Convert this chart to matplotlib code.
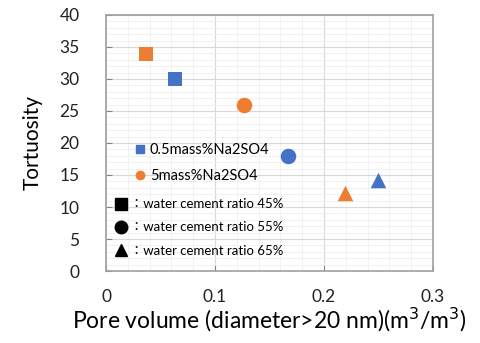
import matplotlib
matplotlib.use("Agg")
import matplotlib.pyplot as plt
from matplotlib.lines import Line2D
from matplotlib.ticker import MultipleLocator

plt.rcParams['font.family'] = ['Lato', 'Noto Sans CJK JP', 'DejaVu Sans']

# data
series_names = ['0.5mass%Na2SO4', '5mass%Na2SO4']
series_colors = ['#4472C4', '#ED7D31']
ratio_labels = ['45%', '55%', '65%']
ratio_markers = ['s', 'o', '^']
pore_05 = [0.063, 0.167, 0.250]
tort_05 = [30.0, 18.0, 14.2]
pore_5 = [0.037, 0.127, 0.219]
tort_5 = [33.9, 25.9, 12.2]
pore = [pore_05, pore_5]
tort = [tort_05, tort_5]
marker_sizes = [105, 125, 125]

fig = plt.figure(figsize=(4.81, 3.43), dpi=100)
ax = fig.add_axes([0.2204, 0.2099, 0.6798, 0.7464])

for xs, ys, c in zip(pore, tort, series_colors):
    for x, y, m, s in zip(xs, ys, ratio_markers, marker_sizes):
        ax.scatter(x, y, marker=m, s=s, color=c, zorder=3, linewidths=0)

ax.set_xlim(0, 0.3)
ax.set_ylim(0, 40)
ax.xaxis.set_major_locator(MultipleLocator(0.1))
ax.xaxis.set_minor_locator(MultipleLocator(0.02))
ax.yaxis.set_major_locator(MultipleLocator(5))
ax.yaxis.set_minor_locator(MultipleLocator(1))
ax.set_xticks([0, 0.1, 0.2, 0.3])
ax.set_xticklabels(['0', '0.1', '0.2', '0.3'])
ax.grid(which='major', color='#d9d9d9', lw=0.8)
ax.grid(which='minor', color='#efefef', lw=0.6)
ax.set_axisbelow(True)
ax.tick_params(which='major', direction='in', length=4, color='#808080', labelsize=12.5, labelcolor='#222222')
ax.tick_params(axis='y', pad=19)
ax.tick_params(axis='x', pad=13)
ax.tick_params(which='minor', length=0)
for sp in ax.spines.values():
    sp.set_color('#a0a0a0')
    sp.set_linewidth(1.2)

ax.set_xlabel('Pore volume (diameter>20 nm)(m$^3$/m$^3$)', fontsize=16.5, labelpad=1)
ax.set_ylabel('Tortuosity', fontsize=15, labelpad=12)

h1 = [Line2D([], [], marker='s', color=series_colors[0], ls='', ms=6),
      Line2D([], [], marker='o', color=series_colors[1], ls='', ms=6)]
leg1 = ax.legend(h1, series_names, loc='upper left', bbox_to_anchor=(0.065, 0.53),
                 frameon=False, fontsize=10.5, handlelength=0.8, handletextpad=0.25,
                 labelspacing=0.85, borderpad=0)
ax.add_artist(leg1)

h2 = [Line2D([], [], marker=m, color='black', ls='', ms=9) for m in ratio_markers]
lab2 = ['：water cement ratio ' + r for r in ratio_labels]
ax.legend(h2, lab2, loc='upper left', bbox_to_anchor=(0.0, 0.31),
          frameon=False, fontsize=9.5, handlelength=1.2, handletextpad=0.1,
          labelspacing=0.85, borderpad=0)

fig.savefig('out.png', dpi=100)
